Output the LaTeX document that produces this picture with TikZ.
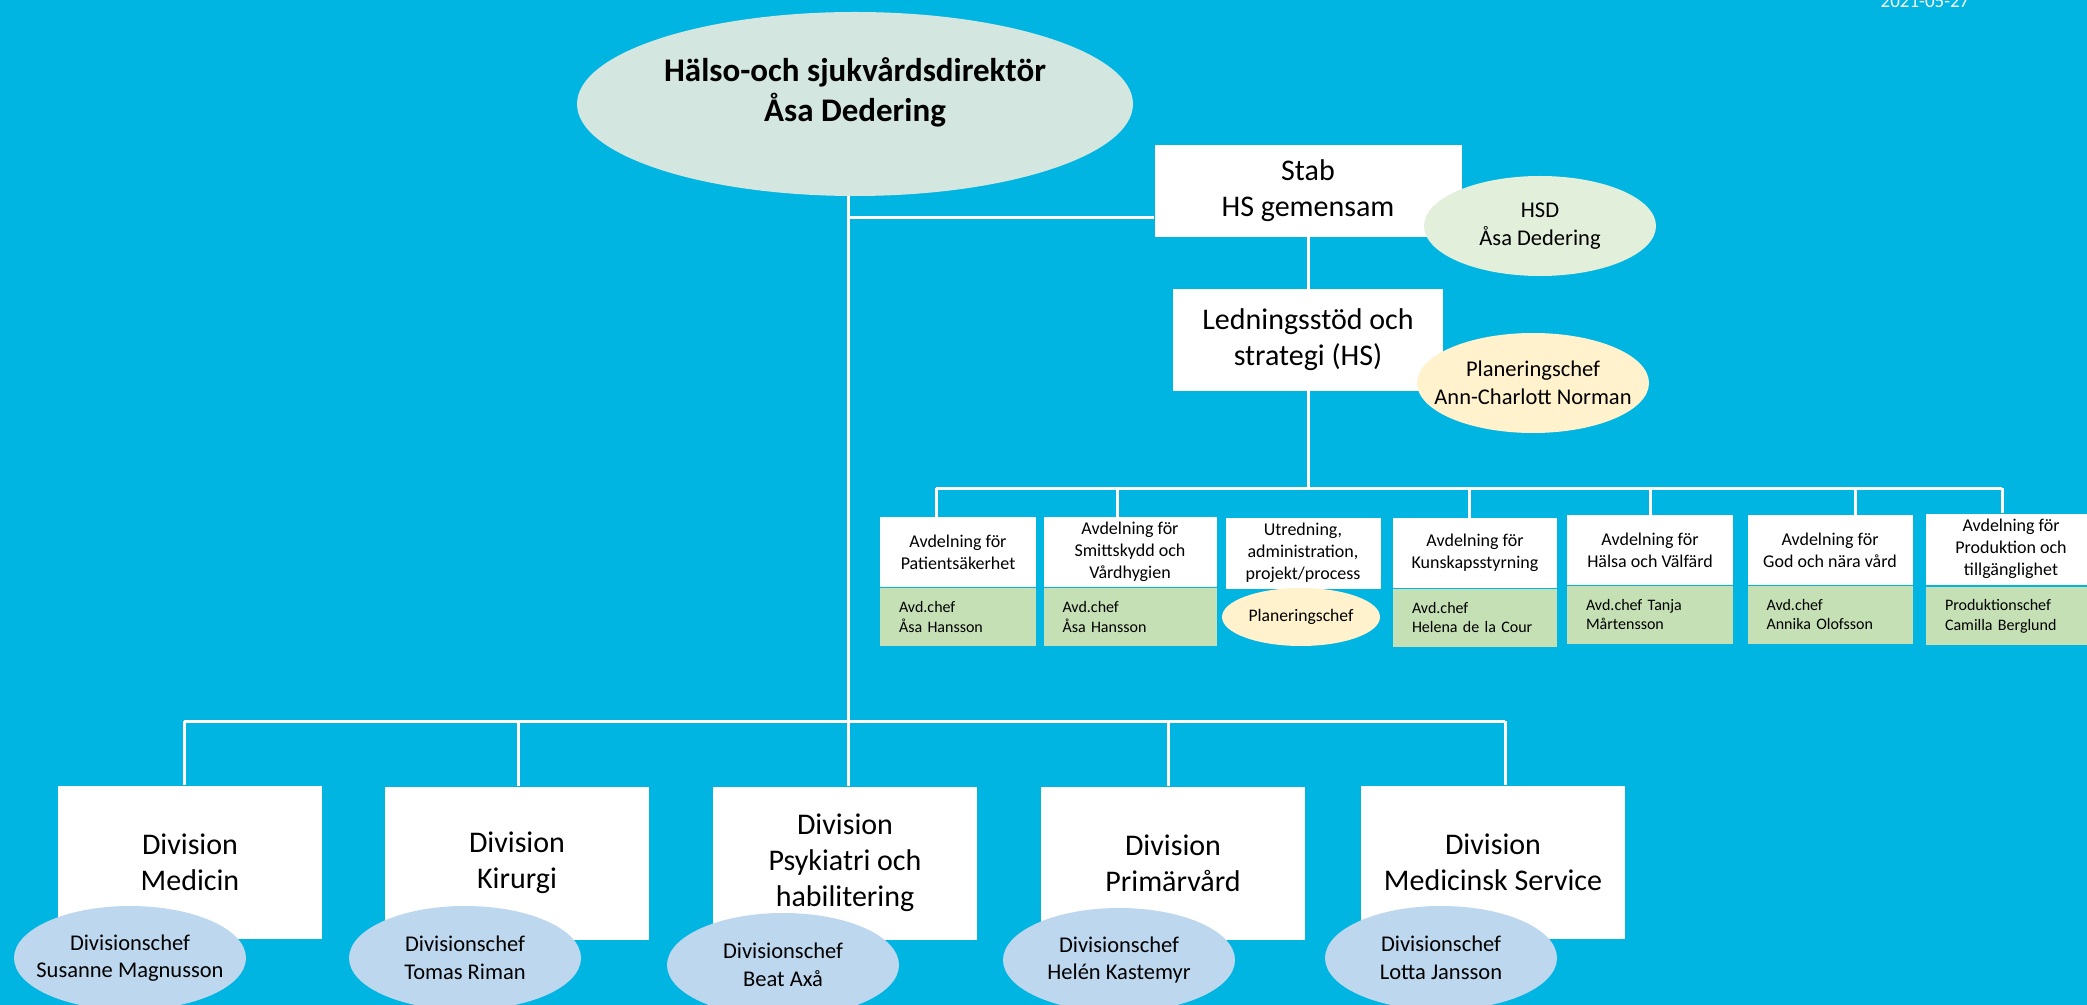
\documentclass[tikz,border=0pt]{standalone}
\usepackage{fontspec}
\setmainfont{Carlito}
\usetikzlibrary{shapes.geometric}
\definecolor{bg}{RGB}{0,181,226}
\definecolor{dirgrey}{RGB}{211,230,224}
\definecolor{hsdgreen}{RGB}{226,239,218}
\definecolor{planyellow}{RGB}{255,242,204}
\definecolor{avdgreen}{RGB}{197,224,180}
\definecolor{chefblue}{RGB}{189,215,238}
\begin{document}
\begin{tikzpicture}[x=0.5pt,y=-0.5pt]
\tikzstyle{wire}=[draw=white,line width=1.5pt]
\tikzstyle{unit}=[fill=white,inner sep=0pt,align=center,font=\fontsize{15}{18}\selectfont]
\tikzstyle{chef}=[ellipse,inner xsep=-12pt,inner ysep=0pt,align=center,minimum width=116pt,minimum height=50pt,font=\fontsize{11.25}{13.8}\selectfont]
\tikzstyle{divbox}=[unit,minimum width=132pt,minimum height=76.5pt]
\tikzstyle{divchef}=[chef,fill=chefblue,minimum height=52pt]
\tikzstyle{avd}=[fill=white,inner sep=0pt,align=center,minimum height=35pt,font=\fontsize{9}{11}\selectfont]
\tikzstyle{avdchef}=[fill=avdgreen,inner xsep=9.5pt,inner ysep=0pt,align=left,minimum height=29pt,anchor=north,font=\fontsize{8}{9.7}\selectfont]
\fill[bg] (0,0) rectangle (2087,1005);
\useasboundingbox (0,0) rectangle (2087,1005);
\node[font=\fontsize{9.5}{11}\selectfont,text=white,anchor=base] (date) at (1925,8) {2021-05-27};

% ledning
\node[ellipse,fill=dirgrey,inner sep=0pt,minimum width=278pt,minimum height=92pt] (dir) at (855,104) {};
\node[align=center,font=\bfseries\fontsize{16.5}{20}\selectfont] (dirtext) at (855,92) {Hälso-och sjukvårdsdirektör\\Åsa Dedering};
\node[unit,minimum width=153.5pt,minimum height=46pt] (stab) at (1308,191) {Stab\\HS gemensam};
\node[unit,minimum width=135pt,minimum height=51pt] (led) at (1308,340) {Ledningsstöd och\\strategi (HS)};
\node[chef,fill=hsdgreen] (hsd) at (1540,226) {HSD\\Åsa Dedering};
\node[chef,fill=planyellow] (plan) at (1533,383) {Planeringschef\\Ann-Charlott Norman};

% avdelningar
\node[avd,minimum width=78pt] (d1) at (958,552) {Avdelning för\\Patientsäkerhet};
\node[avdchef,text width=59pt] (c1) at (d1.south) {Avd.chef\\Åsa Hansson};
\node[avd,minimum width=86.5pt] (d2) at (1130,552) {Avdelning för\\Smittskydd och\\Vårdhygien};
\node[avdchef,text width=67.5pt] (c2) at (d2.south) {Avd.chef\\Åsa Hansson};
\node[avd,minimum width=77.5pt,minimum height=35.5pt] (d3) at (1303,553) {Utredning,\\administration,\\projekt/process};
\node[ellipse,fill=planyellow,inner sep=0pt,minimum width=79pt,minimum height=29pt,font=\fontsize{8.8}{10}\selectfont] (c3) at (1301,617) {Planeringschef};
\node[avd,minimum width=82pt] (d4) at (1475,553) {Avdelning för\\Kunskapsstyrning};
\node[avdchef,text width=63pt] (c4) at (d4.south) {Avd.chef\\Helena de la Cour};
\node[avd,minimum width=83pt] (d5) at (1650,550) {Avdelning för\\Hälsa och Välfärd};
\node[avdchef,text width=64pt] (c5) at (d5.south) {Avd.chef Tanja\\Mårtensson};
\node[avd,minimum width=82.5pt] (d6) at (1830,550) {Avdelning för\\God och nära vård};
\node[avdchef,text width=63.5pt] (c6) at (d6.south) {Avd.chef\\Annika Olofsson};
\node[avd,minimum width=85pt,minimum height=35.5pt] (d7) at (2011,549) {Avdelning för\\Produktion och\\tillgänglighet};
\node[avdchef,text width=66pt] (c7) at ([yshift=-1pt]d7.south) {Produktionschef\\Camilla Berglund};

% divisioner
\node[divbox] (v1) at (190,862) {Division\\Medicin};
\node[divbox] (v2) at (517,863) {Division\\Kirurgi};
\node[divbox] (v3) at (845,863) {Division\\Psykiatri och\\habilitering};
\node[divbox] (v4) at (1173,863) {Division\\Primärvård};
\node[divbox] (v5) at (1493,862) {Division\\Medicinsk Service};
\node[divchef] (e1) at (130,958) {Divisionschef\\Susanne Magnusson};
\node[divchef] (e2) at (465,958) {Divisionschef\\Tomas Riman};
\node[divchef] (e3) at (783,965) {Divisionschef\\Beat Axå};
\node[divchef] (e4) at (1119,960) {Divisionschef\\Helén Kastemyr};
\node[divchef] (e5) at (1441,958) {Divisionschef\\Lotta Jansson};

% linjer
\coordinate (stabjoin) at (848,218);
\coordinate (divbusL) at (184,721);
\coordinate (divbusR) at (1505,721);
\coordinate (avdbusL) at (936,488);
\coordinate (avdbusR) at (2002,488);
\draw[wire] (dir.south -| stabjoin) -- (stabjoin |- v3.north);
\draw[wire] (stabjoin) -- (stabjoin -| stab.west);
\draw[wire] (stab.south) -- (led.north);
\draw[wire] (led.south) -- (led.south |- avdbusL);
\draw[wire] (avdbusL) -- (avdbusR);
\foreach \x/\n in {936/d1,1117/d2,1469/d4,1650/d5,1855/d6,2002/d7}
  \draw[wire] (\x,488) coordinate (top) -- (top |- \n.north);
\draw[wire] (divbusL) -- (divbusR);
\foreach \x/\n in {184/v1,518/v2,1168/v4,1505/v5}
  \draw[wire] (\x,721) coordinate (top) -- (top |- \n.north);
\end{tikzpicture}
\end{document}
